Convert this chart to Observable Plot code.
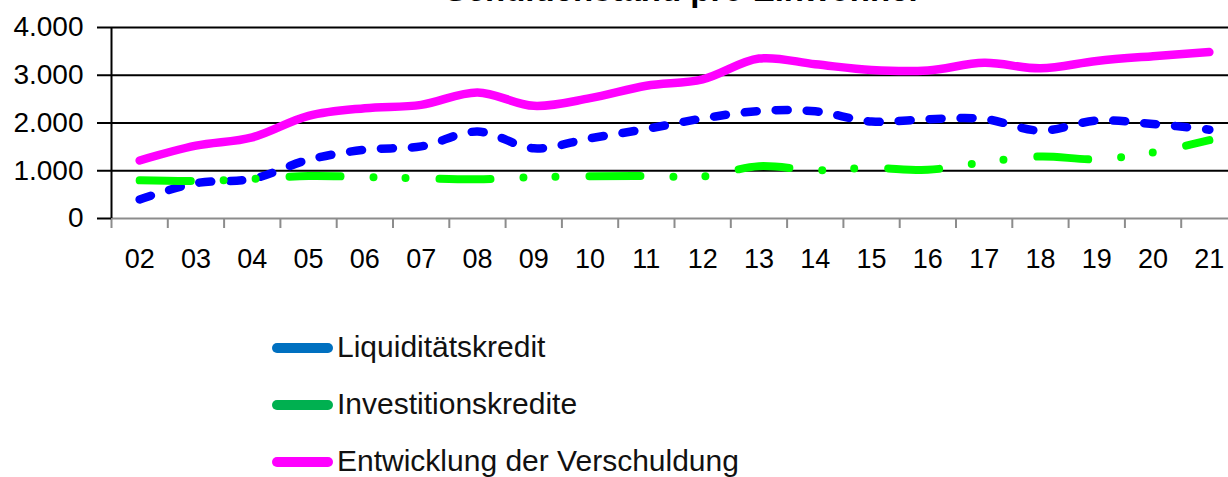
<!DOCTYPE html>
<html>
<head>
<meta charset="utf-8">
<script src="https://cdn.jsdelivr.net/npm/d3@7"></script>
<script src="https://cdn.jsdelivr.net/npm/@observablehq/plot@0.6"></script>
<style>
  html, body { margin: 0; padding: 0; background: #fff; }
  #wrap { position: relative; width: 1228px; height: 477px; overflow: hidden; font-family: "Liberation Sans", Arial, sans-serif; }
  #wrap svg { display: block; }
  #title { position: absolute; left: 0; top: 0; }
</style>
</head>
<body>
<div id="wrap"></div>
<script>
// ---- data ----
const years = [2002, 2003, 2004, 2005, 2006, 2007, 2008, 2009, 2010, 2011,
               2012, 2013, 2014, 2015, 2016, 2017, 2018, 2019, 2020, 2021];
const liquiditaet = [400, 740, 830, 1230, 1440, 1510, 1820, 1470, 1680, 1875,
                     2095, 2250, 2245, 2030, 2080, 2085, 1840, 2050, 1980, 1860];
const investition = [800, 785, 830, 890, 870, 840, 820, 865, 885, 890,
                     880, 1095, 1010, 1060, 1020, 1180, 1300, 1240, 1385, 1640];
const verschuldung = [1215, 1525, 1700, 2150, 2310, 2380, 2640, 2360, 2520, 2780,
                      2915, 3350, 3230, 3110, 3100, 3260, 3145, 3300, 3400, 3485];
const yTicks = [0, 1000, 2000, 3000, 4000];
const gridLines = [1000, 2000, 3000, 4000];
const seriesNames = ["Liquiditätskredit", "Investitionskredite", "Entwicklung der Verschuldung"];
const lineColors = ["#0000FF", "#00FF00", "#FF00FF"];
const legendColors = ["#0070C0", "#00B050", "#FF00FF"];
const titleText = "Schuldenstand pro Einwohner";

// ---- build ----
const font = "'Liberation Sans', Arial, sans-serif";
const deFmt = d3.formatLocale({decimal: ",", thousands: ".", grouping: [3], currency: ["", "€"]}).format(",d");
const bounds = years.map(y => y - 0.5).concat([years[years.length - 1] + 0.5]);
const rows = (vals) => years.map((y, i) => ({year: y, value: vals[i]}));

const chart = Plot.plot({
  width: 1228,
  height: 290,
  marginLeft: 111,
  marginRight: 0,
  marginTop: 27,
  marginBottom: 72,
  style: {fontFamily: font, fontSize: "28px", color: "black", background: "white", overflow: "visible"},
  x: {type: "linear", domain: [2001.5, 2021.34], axis: null, label: null},
  y: {domain: [0, 4000], axis: null, label: null},
  marks: [
    Plot.ruleY(gridLines, {stroke: "black", strokeWidth: 2}),
    Plot.ruleY([0], {stroke: "#8c8c8c", strokeWidth: 2}),
    Plot.axisX({ticks: bounds, tickSize: 10, tickFormat: () => "", label: null, stroke: "#8c8c8c", strokeWidth: 2}),
    Plot.axisX({ticks: years, tickSize: 0, tickPadding: 30, label: null, tickFormat: d => String(d).slice(2), fontSize: 27, fill: "black"}),
    Plot.axisY({ticks: yTicks, tickSize: 14, tickPadding: 14, label: null, tickFormat: deFmt, stroke: "black", strokeWidth: 2, fontSize: 28, fill: "black"}),
    Plot.ruleX([2001.5], {y1: 0, y2: 4000, stroke: "black", strokeWidth: 2}),
    Plot.line(rows(liquiditaet), {x: "year", y: "value", curve: "catmull-rom", stroke: lineColors[0],
      strokeWidth: 8.5, strokeLinecap: "round", strokeLinejoin: "round", strokeDasharray: "12 19"}),
    Plot.line(rows(investition), {x: "year", y: "value", curve: "catmull-rom", stroke: lineColors[1],
      strokeWidth: 8, strokeLinecap: "round", strokeLinejoin: "round", strokeDasharray: "51 33 0 32 0 34"}),
    Plot.line(rows(verschuldung), {x: "year", y: "value", curve: "catmull-rom", stroke: lineColors[2],
      strokeWidth: 8.5, strokeLinecap: "round", strokeLinejoin: "round"})
  ]
});

const wrap = document.getElementById("wrap");
wrap.appendChild(chart);

// legend below the chart
const leg = d3.create("svg").attr("width", 1228).attr("height", 187);
seriesNames.forEach((name, i) => {
  const cy = 58 + i * 57;
  leg.append("line").attr("x1", 277).attr("x2", 328).attr("y1", cy).attr("y2", cy)
    .attr("stroke", legendColors[i]).attr("stroke-width", 10).attr("stroke-linecap", "round");
  leg.append("text").attr("x", 337).attr("y", cy + 9).attr("font-family", font).attr("font-size", 30)
    .attr("fill", "#111").text(name);
});
wrap.appendChild(leg.node());

// title (cropped at the top edge as in the source)
const t = d3.create("svg").attr("id", "title").attr("width", 1228).attr("height", 20);
t.append("text").attr("x", 683).attr("y", 0.5).attr("text-anchor", "middle")
  .attr("font-family", font).attr("font-weight", "bold").attr("font-size", 33).attr("fill", "black").text(titleText);
wrap.appendChild(t.node());
</script>
</body>
</html>
